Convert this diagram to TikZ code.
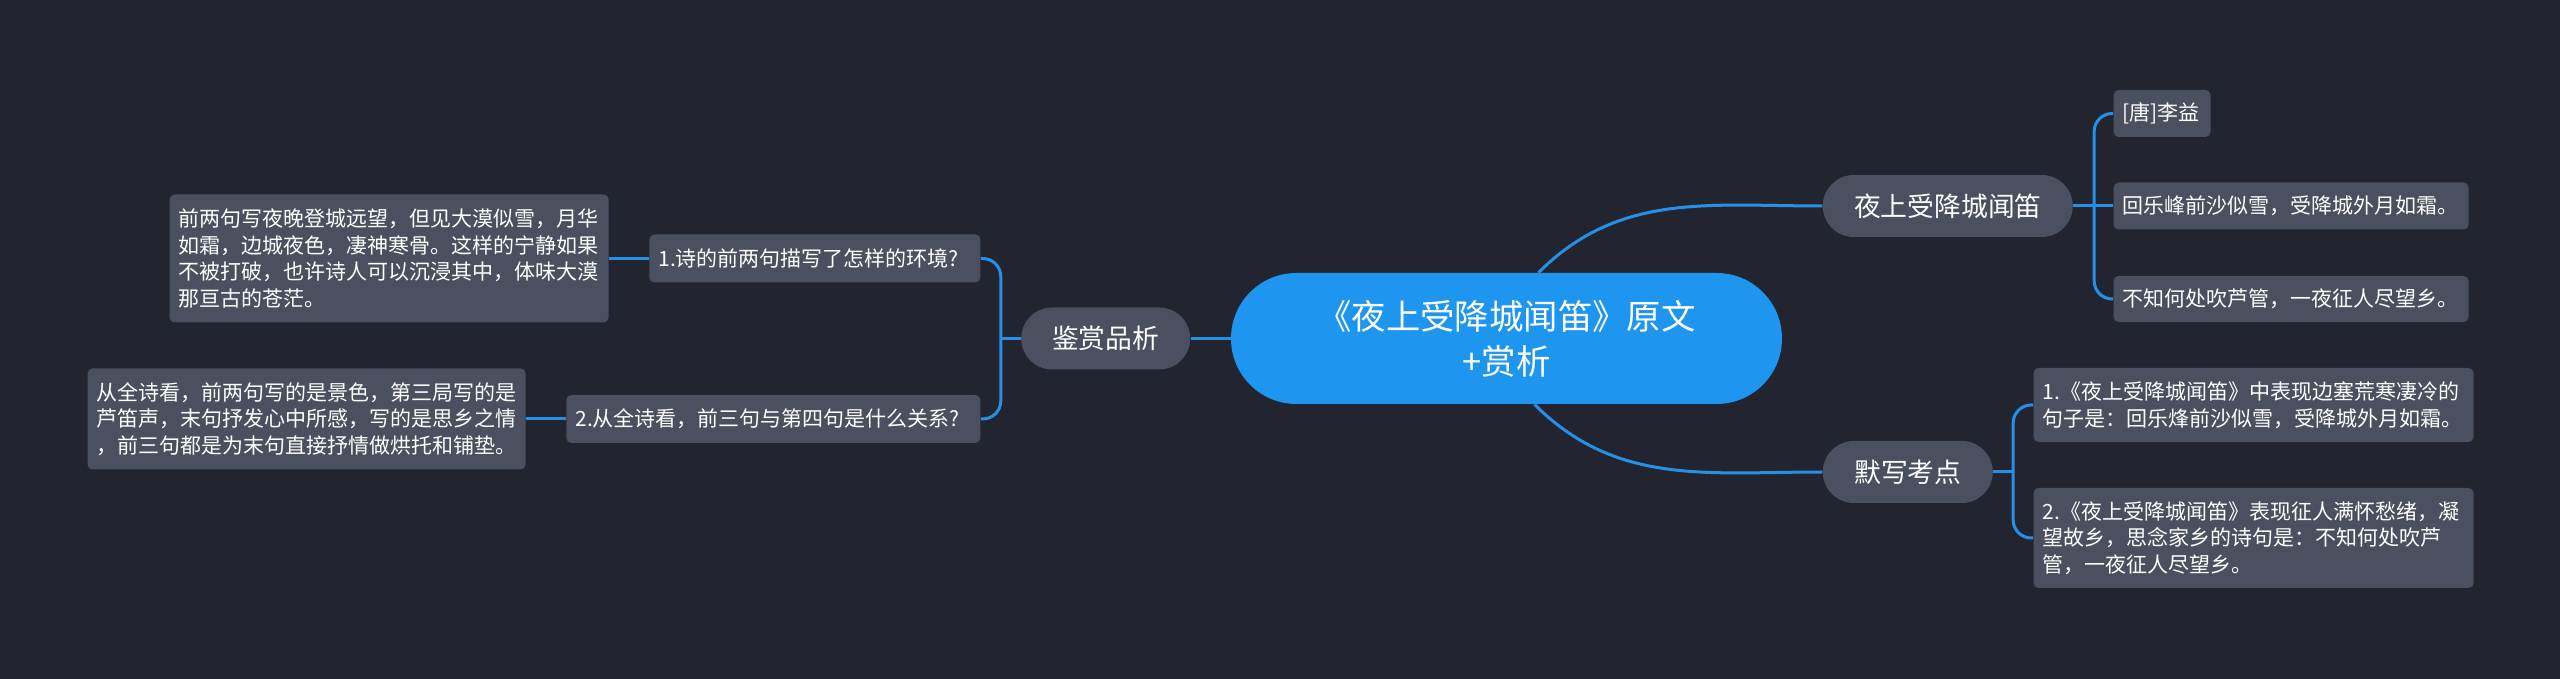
\documentclass[tikz,border=0pt]{standalone}
\usepackage{fontspec}
\setmainfont{Noto Sans CJK SC}
\usepackage{xcolor}
\usepackage{tikz}
\usetikzlibrary{positioning}
\definecolor{bgdark}{HTML}{222530}
\definecolor{boxgray}{HTML}{4A505F}
\definecolor{topicblue}{HTML}{1E96F0}
\definecolor{linkblue}{HTML}{2490E8}

\begin{document}
\begin{tikzpicture}[
  node distance=20pt,
  every node/.style={text=white, inner sep=0pt},
  topic/.style={fill=topicblue, rounded corners=32.7pt, minimum width=275.5pt,
    minimum height=65.5pt, align=center, font=\fontsize{17.2}{22.5}\selectfont},
  branch/.style={fill=boxgray, rounded corners=15.5pt, minimum height=31pt,
    font=\fontsize{13.4}{16}\selectfont},
  leaf/.style={fill=boxgray, rounded corners=2.5pt, inner xsep=4.5pt, align=left,
    font=\fontsize{10.5}{13.25}\selectfont},
  link/.style={draw=linkblue, line width=1.5pt}
]
  \fill[bgdark, use as bounding box] (-753.25pt,-170.25pt) rectangle (526.75pt,169.25pt);

  \node[topic] (Main) at (0,0) {《夜上受降城闻笛》原文\\+赏析};

  % right side
  \node[branch, minimum width=125pt] (Poem) [right=of Main, yshift=66.25pt] {夜上受降城闻笛};
  \node[leaf, text width=39.5pt, minimum height=23.5pt] (P1) [right=of Poem, yshift=46.25pt] {[唐]李益};
  \node[leaf, text width=168.5pt, minimum height=23.5pt] (P2) [right=of Poem] {回乐峰前沙似雪，受降城外月如霜。};
  \node[leaf, text width=168.5pt, minimum height=23pt] (P3) [right=of Poem, yshift=-46.5pt] {不知何处吹芦管，一夜征人尽望乡。};

  \node[branch, minimum width=85pt] (Recite) [right=of Main, yshift=-66.75pt] {默写考点};
  \node[leaf, text width=211pt, minimum height=37pt] (R1) [right=of Recite, yshift=33.5pt]
    {1.《夜上受降城闻笛》中表现边塞荒寒凄冷的\\句子是：回乐烽前沙似雪，受降城外月如霜。};
  \node[leaf, text width=211pt, minimum height=50pt] (R2) [right=of Recite, yshift=-33pt]
    {2.《夜上受降城闻笛》表现征人满怀愁绪，凝\\望故乡，思念家乡的诗句是：不知何处吹芦\\管，一夜征人尽望乡。};

  % left side
  \node[branch, minimum width=84.5pt] (Appr) [left=of Main] {鉴赏品析};
  \node[leaf, text width=156.5pt, minimum height=24pt] (Q1) [left=of Appr, yshift=40pt] {1.诗的前两句描写了怎样的环境?};
  \node[leaf, text width=198pt, minimum height=24pt] (Q2) [left=of Appr, yshift=-40.25pt] {2.从全诗看，前三句与第四句是什么关系?};
  \node[leaf, text width=210.5pt, minimum height=64pt] (A1) [left=of Q1]
    {前两句写夜晚登城远望，但见大漠似雪，月华\\如霜，边城夜色，凄神寒骨。这样的宁静如果\\不被打破，也许诗人可以沉浸其中，体味大漠\\那亘古的苍茫。};
  \node[leaf, text width=210pt, minimum height=50.5pt] (A2) [left=of Q2]
    {从全诗看，前两句写的是景色，第三局写的是\\芦笛声，末句抒发心中所感，写的是思乡之情\\，前三句都是为末句直接抒情做烘托和铺垫。};

  \draw[link] ([xshift=16pt]Main.north) to[out=45, in=180] (Poem.west);
  \draw[link] ([xshift=14pt]Main.south) to[out=-45, in=180] (Recite.west);
  \draw[link] (Main.west) -- (Appr.east);

  \coordinate (jP) at ([xshift=10.5pt]Poem.east);
  \coordinate (jR) at ([xshift=10pt]Recite.east);
  \coordinate (jA) at ([xshift=-10pt]Appr.west);

  \draw[link] (Poem.east) -- (P2.west);
  \draw[link, rounded corners=9pt] (jP) |- (P1.west);
  \draw[link, rounded corners=9pt] (jP) |- (P3.west);

  \draw[link] (Recite.east) -- (jR);
  \draw[link, rounded corners=9pt] (jR) |- (R1.west);
  \draw[link, rounded corners=9pt] (jR) |- (R2.west);

  \draw[link] (Appr.west) -- (jA);
  \draw[link, rounded corners=9pt] (jA) |- (Q1.east);
  \draw[link, rounded corners=9pt] (jA) |- (Q2.east);
  \draw[link] (Q1.west) -- (A1.east);
  \draw[link] (Q2.west) -- (A2.east);
\end{tikzpicture}
\end{document}
